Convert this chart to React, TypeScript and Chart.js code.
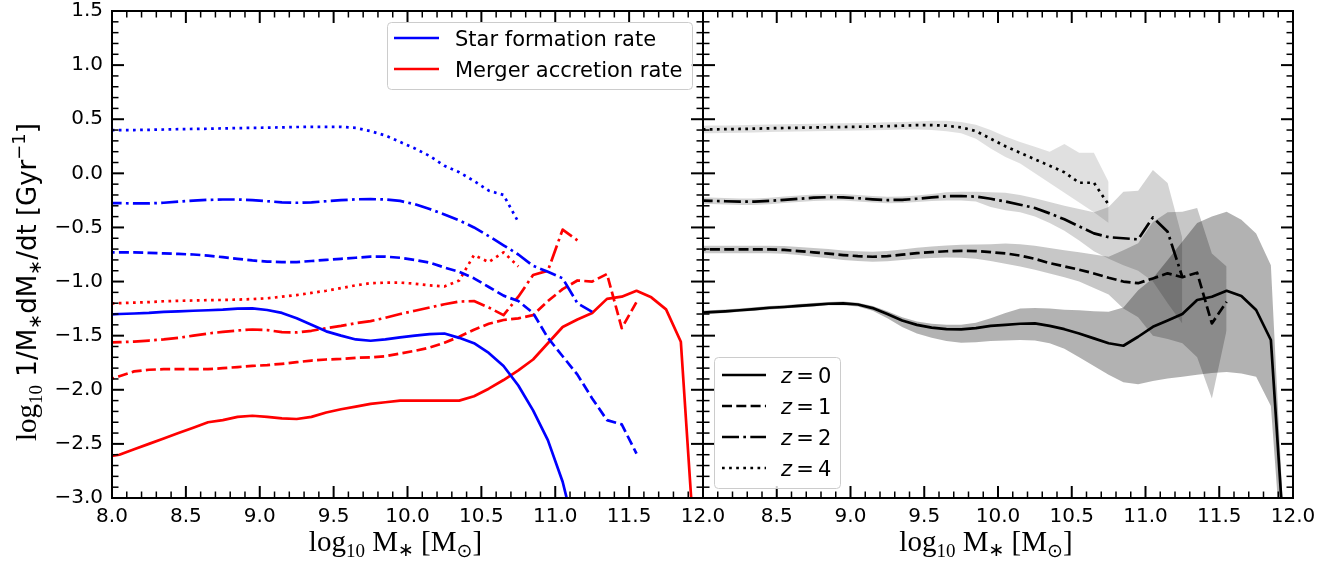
import React, { useEffect, useRef } from "react";
import { Chart, registerables } from "chart.js";

Chart.register(...registerables);

// ---------------- data (log10 stellar mass bin centres) ----------------
const MASS = [7.95, 8.05, 8.15, 8.25, 8.35, 8.45, 8.55, 8.65, 8.75, 8.85, 8.95, 9.05, 9.15, 9.25, 9.35, 9.45, 9.55, 9.65, 9.75, 9.85, 9.95, 10.05, 10.15, 10.25, 10.35, 10.45, 10.55, 10.65, 10.75, 10.85, 10.95, 11.05, 11.15, 11.25, 11.35, 11.45, 11.55, 11.65, 11.75, 11.85, 11.95];

// Star formation rate (left panel, blue)
const SFR_Z0 = [-1.305, -1.3, -1.295, -1.29, -1.28, -1.275, -1.27, -1.265, -1.26, -1.25, -1.248, -1.263, -1.29, -1.34, -1.4, -1.46, -1.5, -1.535, -1.547, -1.535, -1.515, -1.5, -1.485, -1.48, -1.52, -1.57, -1.66, -1.78, -1.96, -2.19, -2.465, -2.85, -3.4];
const SFR_Z1 = [-0.73, -0.73, -0.73, -0.735, -0.74, -0.745, -0.75, -0.76, -0.775, -0.79, -0.805, -0.815, -0.82, -0.82, -0.81, -0.8, -0.79, -0.78, -0.77, -0.77, -0.78, -0.8, -0.825, -0.87, -0.91, -0.97, -1.05, -1.13, -1.18, -1.29, -1.52, -1.69, -1.86, -2.08, -2.28, -2.32, -2.59];
const SFR_Z2 = [-0.275, -0.275, -0.278, -0.278, -0.272, -0.262, -0.252, -0.245, -0.242, -0.242, -0.248, -0.258, -0.268, -0.272, -0.268, -0.258, -0.248, -0.24, -0.238, -0.242, -0.255, -0.285, -0.33, -0.38, -0.435, -0.5, -0.58, -0.665, -0.75, -0.855, -0.91, -0.97, -1.2, -1.28];
const SFR_Z4 = [0.4, 0.4, 0.4, 0.402, 0.405, 0.408, 0.41, 0.412, 0.415, 0.418, 0.42, 0.422, 0.425, 0.428, 0.43, 0.43, 0.43, 0.42, 0.39, 0.35, 0.29, 0.23, 0.16, 0.07, 0.01, -0.07, -0.16, -0.2, -0.45];

// Merger accretion rate (left panel, red)
const MERGER_Z0 = [-2.62, -2.6, -2.55, -2.5, -2.45, -2.4, -2.35, -2.3, -2.28, -2.25, -2.24, -2.25, -2.265, -2.27, -2.25, -2.21, -2.18, -2.155, -2.13, -2.115, -2.1, -2.1, -2.1, -2.1, -2.1, -2.06, -1.99, -1.91, -1.82, -1.72, -1.57, -1.42, -1.35, -1.29, -1.16, -1.14, -1.085, -1.146, -1.257, -1.556, -3.62];
const MERGER_Z1 = [-1.92, -1.875, -1.83, -1.815, -1.81, -1.81, -1.81, -1.81, -1.8, -1.79, -1.78, -1.772, -1.76, -1.745, -1.73, -1.72, -1.715, -1.705, -1.7, -1.69, -1.665, -1.64, -1.61, -1.565, -1.51, -1.445, -1.39, -1.355, -1.34, -1.31, -1.18, -1.07, -0.99, -1.0, -0.93, -1.43, -1.19];
const MERGER_Z2 = [-1.565, -1.56, -1.555, -1.545, -1.535, -1.52, -1.5, -1.48, -1.465, -1.452, -1.443, -1.448, -1.468, -1.47, -1.455, -1.43, -1.41, -1.385, -1.365, -1.335, -1.3, -1.27, -1.24, -1.21, -1.185, -1.18, -1.24, -1.31, -1.14, -0.94, -0.9, -0.52, -0.62];
const MERGER_Z4 = [-1.205, -1.2, -1.195, -1.19, -1.182, -1.178, -1.175, -1.172, -1.17, -1.167, -1.162, -1.155, -1.14, -1.125, -1.105, -1.085, -1.06, -1.035, -1.015, -1.01, -1.01, -1.02, -1.035, -1.045, -0.99, -0.755, -0.82, -0.73, -0.86];

// Total growth rate (right panel, black) with scatter bands
const TOTAL_Z0 = [-1.29, -1.282, -1.275, -1.265, -1.255, -1.242, -1.235, -1.225, -1.215, -1.205, -1.202, -1.212, -1.245, -1.3, -1.36, -1.4, -1.425, -1.44, -1.442, -1.43, -1.41, -1.4, -1.39, -1.386, -1.41, -1.44, -1.48, -1.525, -1.57, -1.593, -1.51, -1.418, -1.36, -1.3, -1.17, -1.14, -1.085, -1.134, -1.263, -1.54, -3.62];
const TOTAL_Z1 = [-0.703, -0.703, -0.703, -0.703, -0.703, -0.703, -0.708, -0.718, -0.73, -0.742, -0.755, -0.765, -0.771, -0.765, -0.752, -0.738, -0.728, -0.72, -0.716, -0.718, -0.728, -0.74, -0.76, -0.79, -0.83, -0.86, -0.89, -0.925, -0.965, -1.0, -1.015, -0.971, -0.924, -0.96, -0.918, -1.387, -1.187];
const TOTAL_Z2 = [-0.252, -0.254, -0.258, -0.262, -0.262, -0.255, -0.245, -0.235, -0.225, -0.22, -0.222, -0.23, -0.24, -0.247, -0.245, -0.235, -0.222, -0.212, -0.21, -0.215, -0.235, -0.26, -0.29, -0.32, -0.37, -0.425, -0.49, -0.555, -0.59, -0.6, -0.61, -0.407, -0.54, -0.96];
const TOTAL_Z4 = [0.405, 0.406, 0.408, 0.41, 0.413, 0.416, 0.419, 0.421, 0.424, 0.426, 0.428, 0.43, 0.433, 0.436, 0.44, 0.445, 0.445, 0.44, 0.425, 0.39, 0.32, 0.25, 0.19, 0.13, 0.07, 0.01, -0.087, -0.087, -0.29];

const BAND_Z0_HI = [-1.272, -1.265, -1.258, -1.248, -1.238, -1.225, -1.218, -1.208, -1.198, -1.188, -1.185, -1.195, -1.225, -1.275, -1.33, -1.37, -1.39, -1.4, -1.4, -1.38, -1.34, -1.29, -1.25, -1.245, -1.25, -1.26, -1.265, -1.275, -1.28, -1.24, -1.08, -0.97, -0.8, -0.63, -0.46, -0.4, -0.355, -0.43, -0.555, -0.85, -3.6];
const BAND_Z0_LO = [-1.305, -1.298, -1.29, -1.28, -1.27, -1.258, -1.25, -1.24, -1.23, -1.22, -1.218, -1.23, -1.27, -1.34, -1.42, -1.48, -1.52, -1.55, -1.565, -1.56, -1.55, -1.545, -1.54, -1.545, -1.57, -1.62, -1.7, -1.78, -1.86, -1.93, -1.95, -1.92, -1.895, -1.88, -1.86, -1.845, -1.835, -1.85, -1.88, -2.15, -4.0];
const BAND_Z1_HI = [-0.668, -0.668, -0.668, -0.668, -0.668, -0.668, -0.672, -0.68, -0.69, -0.7, -0.712, -0.72, -0.725, -0.718, -0.703, -0.688, -0.676, -0.666, -0.66, -0.658, -0.655, -0.648, -0.655, -0.67, -0.69, -0.71, -0.73, -0.75, -0.77, -0.71, -0.647, -0.45, -0.36, -0.355, -0.32, -0.74, -0.86];
const BAND_Z1_LO = [-0.738, -0.738, -0.738, -0.738, -0.738, -0.738, -0.743, -0.755, -0.77, -0.785, -0.8, -0.81, -0.817, -0.812, -0.8, -0.79, -0.782, -0.778, -0.78, -0.79, -0.81, -0.835, -0.86, -0.89, -0.925, -0.96, -1.0, -1.06, -1.12, -1.25, -1.33, -1.5, -1.53, -1.57, -1.7, -2.08, -1.45];
const BAND_Z2_HI = [-0.222, -0.224, -0.228, -0.232, -0.232, -0.225, -0.215, -0.205, -0.195, -0.19, -0.192, -0.2, -0.21, -0.217, -0.215, -0.205, -0.19, -0.175, -0.17, -0.17, -0.175, -0.18, -0.2, -0.23, -0.265, -0.3, -0.33, -0.36, -0.31, -0.17, -0.16, 0.03, -0.09, -0.6];
const BAND_Z2_LO = [-0.282, -0.284, -0.288, -0.292, -0.292, -0.285, -0.275, -0.265, -0.255, -0.25, -0.252, -0.26, -0.27, -0.277, -0.275, -0.265, -0.255, -0.25, -0.25, -0.26, -0.31, -0.34, -0.36, -0.4, -0.46, -0.53, -0.62, -0.72, -0.79, -0.85, -0.9, -1.0, -1.2, -1.39];
const BAND_Z4_HI = [0.44, 0.441, 0.443, 0.445, 0.448, 0.451, 0.454, 0.456, 0.459, 0.461, 0.463, 0.465, 0.468, 0.471, 0.475, 0.48, 0.485, 0.485, 0.475, 0.45, 0.4, 0.34, 0.29, 0.245, 0.2, 0.27, 0.19, 0.19, -0.08];
const BAND_Z4_LO = [0.37, 0.371, 0.373, 0.375, 0.378, 0.381, 0.384, 0.386, 0.389, 0.391, 0.393, 0.395, 0.398, 0.401, 0.405, 0.405, 0.4, 0.39, 0.37, 0.32, 0.23, 0.15, 0.09, 0.0, -0.09, -0.18, -0.27, -0.36, -0.46];

const X_TICKS = [8.0, 8.5, 9.0, 9.5, 10.0, 10.5, 11.0, 11.5, 12.0];
const Y_TICKS = [-3.0, -2.5, -2.0, -1.5, -1.0, -0.5, 0.0, 0.5, 1.0, 1.5];
const LEFT_LEGEND = ["Star formation rate", "Merger accretion rate"];
const REDSHIFTS = ["0", "1", "2", "4"];

// ---------------- styles ----------------
const BLUE = "#0000ff";
const RED = "#ff0000";
const BLACK = "#000000";
const LW = 2.7;
const DASHES = [[], [10, 4.3], [17, 4.3, 2.7, 4.3], [2.7, 4.4]];
const BAND_FILLS = ["rgba(0,0,0,0.30)", "rgba(0,0,0,0.22)", "rgba(0,0,0,0.17)", "rgba(0,0,0,0.12)"];
const SERIF = '"Liberation Serif", "DejaVu Serif", serif';
const SANS = '"DejaVu Sans", sans-serif';

const pts = (vals: number[]) =>
  MASS.map((m, i) => ({ x: m, y: vals[i] })).filter((p) => p.y !== undefined && p.y !== null);

const lineDs = (label: string, vals: number[], color: string, dash: number[]) => ({
  label,
  data: pts(vals),
  borderColor: color,
  borderWidth: LW,
  borderDash: dash,
  borderCapStyle: "butt",
  borderJoinStyle: "round",
  pointRadius: 0,
  fill: false,
  tension: 0,
  order: 0,
});

const bandDs = (label: string, hi: number[], lo: number[], color: string) => [
  {
    label: label + " upper",
    data: pts(hi),
    borderColor: "rgba(0,0,0,0)",
    borderWidth: 0,
    backgroundColor: color,
    pointRadius: 0,
    fill: "+1",
    tension: 0,
    order: 5,
  },
  {
    label: label + " lower",
    data: pts(lo),
    borderColor: "rgba(0,0,0,0)",
    borderWidth: 0,
    pointRadius: 0,
    fill: false,
    tension: 0,
    order: 5,
  },
];

const fmt = (v: number) => v.toFixed(1).replace("-", "\u2212");

type Seg = { t: string; f: string; dy?: number };
function richText(ctx: CanvasRenderingContext2D, segs: Seg[], x: number, y: number, rot: number) {
  ctx.save();
  ctx.translate(x, y);
  if (rot) ctx.rotate(rot);
  ctx.textBaseline = "alphabetic";
  ctx.textAlign = "left";
  ctx.fillStyle = "#000";
  const w = segs.map((s) => {
    ctx.font = s.f;
    return ctx.measureText(s.t).width;
  });
  const total = w.reduce((a, b) => a + b, 0);
  let cx = -total / 2;
  segs.forEach((s, i) => {
    ctx.font = s.f;
    ctx.fillText(s.t, cx, -(s.dy || 0));
    cx += w[i];
  });
  ctx.restore();
}

const X_LABEL: Seg[] = [
  { t: "log", f: `29px ${SERIF}` },
  { t: "10", f: `19px ${SERIF}`, dy: -6 },
  { t: " M", f: `29px ${SERIF}` },
  { t: "\u2217", f: `19px ${SANS}`, dy: -5 },
  { t: " [M", f: `29px ${SERIF}` },
  { t: "\u2299", f: `19px ${SANS}`, dy: -6 },
  { t: "]", f: `29px ${SERIF}` },
];

const Y_LABEL: Seg[] = [
  { t: "log", f: `29px ${SERIF}` },
  { t: "10", f: `19px ${SERIF}`, dy: -6 },
  { t: " 1/M", f: `26px ${SANS}` },
  { t: "\u2217", f: `18px ${SANS}`, dy: -5 },
  { t: "dM", f: `26px ${SANS}` },
  { t: "\u2217", f: `18px ${SANS}`, dy: -5 },
  { t: "/dt [Gyr", f: `26px ${SANS}` },
  { t: "\u22121", f: `18px ${SANS}`, dy: 11 },
  { t: "]", f: `26px ${SANS}` },
];

function drawFrameAndTicks(chart: any) {
  const { ctx, chartArea: a } = chart;
  const xs = chart.scales.x;
  const ys = chart.scales.y;
  const isMajor = (arr: number[], v: number) => arr.some((t) => Math.abs(t - v) < 1e-6);
  const seg = (x1: number, y1: number, x2: number, y2: number) => {
    ctx.beginPath();
    ctx.moveTo(x1, y1);
    ctx.lineTo(x2, y2);
    ctx.stroke();
  };
  ctx.save();
  ctx.strokeStyle = "#000";
  ctx.setLineDash([]);
  for (let k = 80; k <= 120; k++) {
    const v = k / 10;
    const major = isMajor(X_TICKS, v);
    const L = major ? 12 : 6.5;
    ctx.lineWidth = major ? 2 : 1.5;
    const px = xs.getPixelForValue(v);
    seg(px, a.bottom, px, a.bottom - L);
    seg(px, a.top, px, a.top + L);
  }
  for (let k = -30; k <= 15; k++) {
    const v = k / 10;
    const major = isMajor(Y_TICKS, v);
    const L = major ? 12 : 6.5;
    ctx.lineWidth = major ? 2 : 1.5;
    const py = ys.getPixelForValue(v);
    seg(a.left, py, a.left + L, py);
    seg(a.right, py, a.right - L, py);
  }
  ctx.lineWidth = 2;
  ctx.strokeRect(a.left, a.top, a.right - a.left, a.bottom - a.top);
  ctx.restore();
}

function legendBox(ctx: CanvasRenderingContext2D, x: number, y: number, w: number, h: number) {
  ctx.save();
  ctx.beginPath();
  (ctx as any).roundRect(x, y, w, h, 4);
  ctx.fillStyle = "rgba(255,255,255,0.8)";
  ctx.fill();
  ctx.strokeStyle = "#cccccc";
  ctx.lineWidth = 1;
  ctx.stroke();
  ctx.restore();
}

function legendLine(ctx: CanvasRenderingContext2D, x1: number, x2: number, y: number, color: string, dash: number[]) {
  ctx.save();
  ctx.strokeStyle = color;
  ctx.lineWidth = LW;
  ctx.lineCap = "butt";
  ctx.setLineDash(dash);
  ctx.beginPath();
  ctx.moveTo(x1, y);
  ctx.lineTo(x2, y);
  ctx.stroke();
  ctx.restore();
}

const leftDecor = {
  id: "leftDecor",
  afterDraw(chart: any) {
    const { ctx, chartArea: a } = chart;
    drawFrameAndTicks(chart);
    legendBox(ctx, 387.5, 22.5, 305, 67);
    const colors = [BLUE, RED];
    LEFT_LEGEND.forEach((txt, i) => {
      const y = 38 + i * 31;
      legendLine(ctx, 394, 439, y, colors[i], []);
      ctx.save();
      ctx.fillStyle = "#000";
      ctx.font = `21px ${SANS}`;
      ctx.textBaseline = "alphabetic";
      ctx.fillText(txt, 455, y + 8);
      ctx.restore();
    });
    richText(ctx, X_LABEL, (a.left + a.right) / 2 - 12, 551, 0);
    richText(ctx, Y_LABEL, 36, 282, -Math.PI / 2);
  },
};

const rightDecor = {
  id: "rightDecor",
  afterDraw(chart: any) {
    const { ctx, chartArea: a } = chart;
    drawFrameAndTicks(chart);
    const ox = 690;
    legendBox(ctx, 714.5 - ox, 357.5, 126, 131);
    REDSHIFTS.forEach((z, i) => {
      const y = 375 + i * 31;
      legendLine(ctx, 722 - ox, 766 - ox, y, BLACK, DASHES[i]);
      ctx.save();
      ctx.fillStyle = "#000";
      ctx.textBaseline = "alphabetic";
      ctx.font = `italic 21px ${SANS}`;
      ctx.fillText("z", 781 - ox, y + 7.5);
      const zw = ctx.measureText("z").width;
      ctx.font = `21px ${SANS}`;
      ctx.fillText("\u2009=\u2009" + z, 781 - ox + zw, y + 7.5);
      ctx.restore();
    });
    richText(ctx, X_LABEL, (a.left + a.right) / 2 - 12, 551, 0);
  },
};

const xScale = (hideFirst: boolean) => ({
  type: "linear",
  min: 8,
  max: 12,
  grid: { display: false, drawTicks: false },
  border: { display: false },
  afterBuildTicks: (s: any) => {
    s.ticks = X_TICKS.map((v) => ({ value: v }));
  },
  ticks: {
    autoSkip: false,
    maxRotation: 0,
    minRotation: 0,
    color: "#000",
    padding: 7,
    font: { family: "DejaVu Sans", size: 20 },
    callback: (v: number) => (hideFirst && Math.abs(v - 8) < 1e-9 ? "" : fmt(v)),
  },
  afterFit: (s: any) => {
    s.height = 66;
    s.paddingLeft = 0;
    s.paddingRight = 0;
  },
});

const yScale = (show: boolean) => ({
  type: "linear",
  min: -3,
  max: 1.5,
  display: show,
  grid: { display: false, drawTicks: false },
  border: { display: false },
  afterBuildTicks: (s: any) => {
    s.ticks = Y_TICKS.map((v) => ({ value: v }));
  },
  ticks: {
    color: "#000",
    padding: 9,
    font: { family: "DejaVu Sans", size: 20 },
    callback: (v: number) => fmt(v),
  },
  afterFit: (s: any) => {
    if (show) s.width = 112;
    s.paddingTop = 0;
    s.paddingBottom = 0;
  },
});

const commonPlugins = { legend: { display: false }, tooltip: { enabled: false }, title: { display: false } };

export default function App() {
  const leftRef = useRef<HTMLCanvasElement>(null);
  const rightRef = useRef<HTMLCanvasElement>(null);

  useEffect(() => {
    const left = new Chart(leftRef.current as HTMLCanvasElement, {
      type: "line",
      data: {
        datasets: [
          lineDs("SFR z=0", SFR_Z0, BLUE, DASHES[0]),
          lineDs("SFR z=1", SFR_Z1, BLUE, DASHES[1]),
          lineDs("SFR z=2", SFR_Z2, BLUE, DASHES[2]),
          lineDs("SFR z=4", SFR_Z4, BLUE, DASHES[3]),
          lineDs("Merger z=0", MERGER_Z0, RED, DASHES[0]),
          lineDs("Merger z=1", MERGER_Z1, RED, DASHES[1]),
          lineDs("Merger z=2", MERGER_Z2, RED, DASHES[2]),
          lineDs("Merger z=4", MERGER_Z4, RED, DASHES[3]),
        ] as any,
      },
      options: {
        responsive: false,
        animation: false,
        events: [],
        layout: { padding: { left: 0, right: 27, top: 11, bottom: 0 } },
        plugins: commonPlugins,
        scales: { x: xScale(false), y: yScale(true) } as any,
      },
      plugins: [leftDecor],
    } as any);

    const right = new Chart(rightRef.current as HTMLCanvasElement, {
      type: "line",
      data: {
        datasets: [
          lineDs("z=0", TOTAL_Z0, BLACK, DASHES[0]),
          lineDs("z=1", TOTAL_Z1, BLACK, DASHES[1]),
          lineDs("z=2", TOTAL_Z2, BLACK, DASHES[2]),
          lineDs("z=4", TOTAL_Z4, BLACK, DASHES[3]),
          ...bandDs("z=0", BAND_Z0_HI, BAND_Z0_LO, BAND_FILLS[0]),
          ...bandDs("z=1", BAND_Z1_HI, BAND_Z1_LO, BAND_FILLS[1]),
          ...bandDs("z=2", BAND_Z2_HI, BAND_Z2_LO, BAND_FILLS[2]),
          ...bandDs("z=4", BAND_Z4_HI, BAND_Z4_LO, BAND_FILLS[3]),
        ] as any,
      },
      options: {
        responsive: false,
        animation: false,
        events: [],
        layout: { padding: { left: 13, right: 48, top: 11, bottom: 0 } },
        plugins: commonPlugins,
        scales: { x: xScale(true), y: yScale(false) } as any,
      },
      plugins: [rightDecor],
    } as any);

    return () => {
      left.destroy();
      right.destroy();
    };
  }, []);

  return (
    <div style={{ position: "absolute", left: 0, top: 0, width: 1341, height: 564, background: "#fff" }}>
      <canvas ref={leftRef} width={730} height={564} style={{ position: "absolute", left: 0, top: 0, width: 730, height: 564 }} />
      <canvas ref={rightRef} width={651} height={564} style={{ position: "absolute", left: 690, top: 0, width: 651, height: 564 }} />
    </div>
  );
}
